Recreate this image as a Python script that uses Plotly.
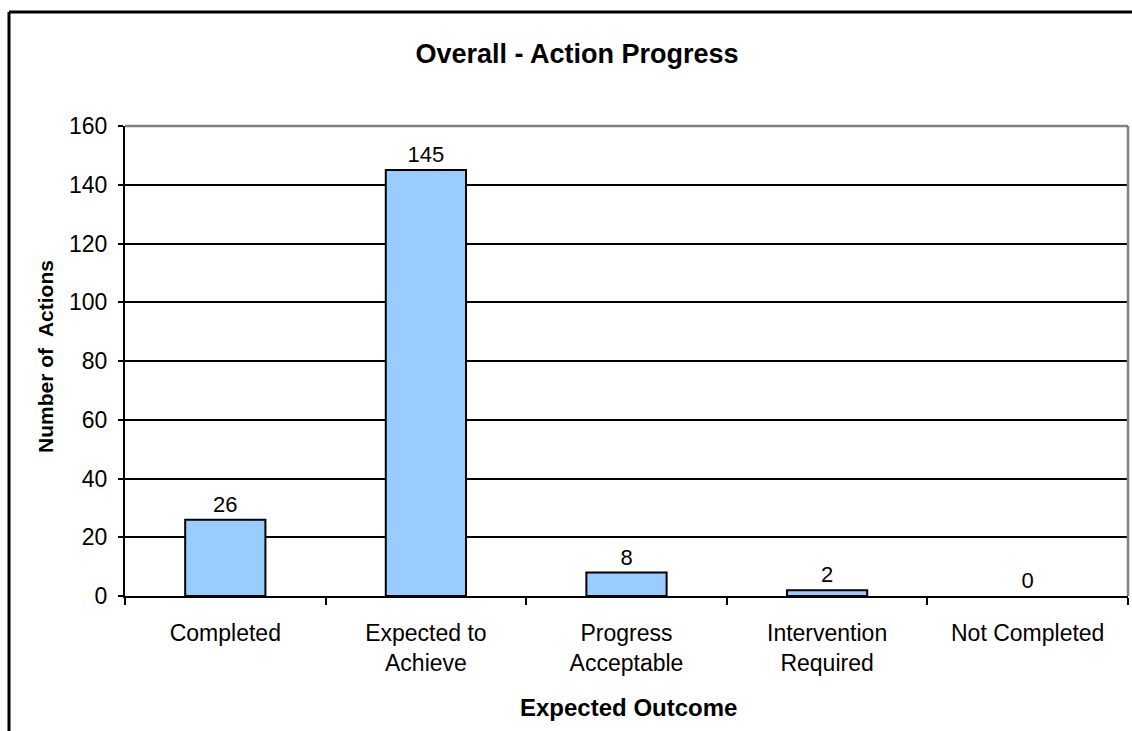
import plotly.graph_objects as go

categories = ["Completed", "Expected to<br>Achieve", "Progress<br>Acceptable",
              "Intervention<br>Required", "Not Completed"]
values = [26, 145, 8, 2, 0]
y_ticks = [0, 20, 40, 60, 80, 100, 120, 140, 160]

FONT = "Arial, Liberation Sans, sans-serif"
W, H = 1132, 731
L, R, T, B = 125, 4, 126, 135
pw, ph = W - L - R, H - T - B

def px_x(x):
    return (x - L) / pw

def px_y(y):
    return (H - B - y) / ph

fig = go.Figure()
fig.add_trace(go.Bar(
    x=categories, y=values, width=0.4,
    marker=dict(color="#99CCFF",
                line=dict(color="black", width=[2 if v > 0 else 0 for v in values])),
    text=[str(v) for v in values], textposition="outside",
    textfont=dict(family=FONT, size=22, color="black"),
    cliponaxis=False,
))

fig.update_layout(
    width=W, height=H,
    margin=dict(l=L, r=R, t=T, b=B, autoexpand=False),
    paper_bgcolor="white", plot_bgcolor="white",
    showlegend=False,
    font=dict(family=FONT, size=22, color="black"),
    title=dict(text="<b>Overall - Action Progress</b>", x=577 / W, xref="container",
               xanchor="center", y=1 - 54 / H, yref="container", yanchor="middle",
               font=dict(family=FONT, size=27, color="black")),
    xaxis=dict(showline=True, linecolor="black", linewidth=2,
               ticks="outside", tickson="boundaries", ticklen=7, tickwidth=2,
               tickcolor="black", showgrid=False,
               tickfont=dict(family=FONT, size=23, color="black"),
               ticklabelstandoff=15),
    yaxis=dict(range=[0, 160], tickvals=y_ticks, showline=True, linecolor="black",
               linewidth=2, ticks="outside", ticklen=5, tickwidth=2, tickcolor="black",
               showgrid=True, gridcolor="black", gridwidth=2, zeroline=False,
               tickfont=dict(family=FONT, size=23, color="black"),
               ticklabelstandoff=6),
    bargap=0.6,
)

# plot-area border (gray top and right) and outer chart border
fig.add_shape(type="line", xref="paper", yref="paper", x0=0, x1=1, y0=1, y1=1,
              line=dict(color="#808080", width=2.5), layer="above")
fig.add_shape(type="line", xref="paper", yref="paper", x0=1, x1=1, y0=0, y1=1,
              line=dict(color="#808080", width=2.5), layer="above")
fig.add_shape(type="line", xref="paper", yref="paper",
              x0=px_x(9), x1=px_x(W + 5), y0=px_y(12), y1=px_y(12),
              line=dict(color="black", width=3), layer="above")
fig.add_shape(type="line", xref="paper", yref="paper",
              x0=px_x(9), x1=px_x(9), y0=px_y(12), y1=px_y(H + 5),
              line=dict(color="black", width=3), layer="above")

fig.add_annotation(text="<b>Number of  Actions</b>", textangle=-90, xref="paper", yref="paper",
                   x=px_x(45), y=px_y(357), xanchor="center", yanchor="middle",
                   showarrow=False, font=dict(family=FONT, size=21, color="black"))
fig.add_annotation(text="<b>Expected Outcome</b>", xref="paper", yref="paper",
                   x=px_x(628), y=px_y(707), xanchor="center", yanchor="middle",
                   showarrow=False, font=dict(family=FONT, size=24, color="black"))

fig.write_html("out.html")
